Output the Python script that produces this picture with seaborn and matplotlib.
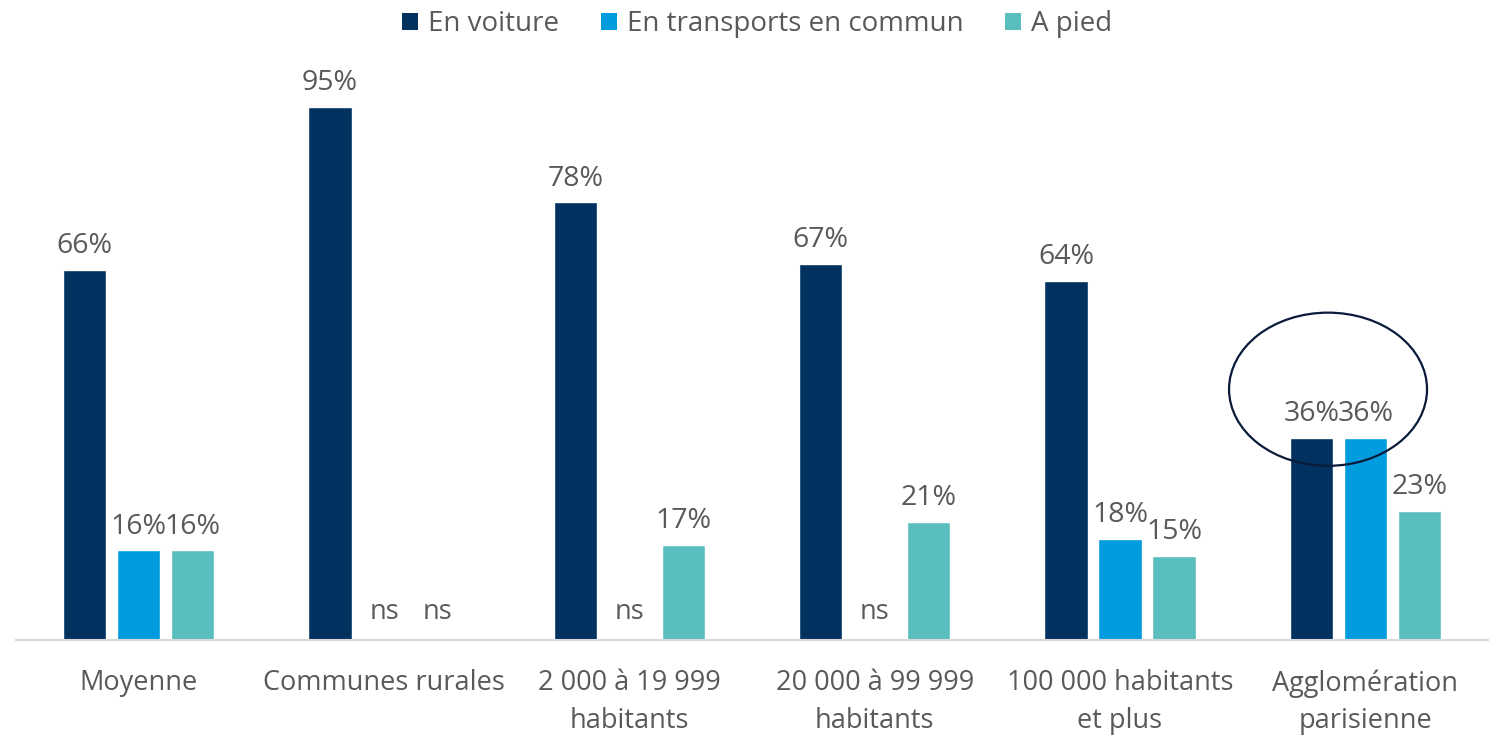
import numpy as np
import pandas as pd
import matplotlib
matplotlib.use("Agg")
import matplotlib.pyplot as plt
from matplotlib.patches import Ellipse, Patch
import seaborn as sns

categories = ["Moyenne", "Communes rurales", "2 000 à 19 999\nhabitants",
              "20 000 à 99 999\nhabitants", "100 000 habitants\net plus",
              "Agglomération\nparisienne"]
series = ["En voiture", "En transports en commun", "A pied"]
voiture = [66, 95, 78, 67, 64, 36]
transports = [16, None, None, None, 18, 36]
pied = [16, None, 17, 21, 15, 23]
colors = ["#00315F", "#009CDE", "#5BBEBE"]

sns.set_theme(style="white")
plt.rcParams["font.family"] = ["Open Sans", "DejaVu Sans"]

rows = []
for s, vals in zip(series, [voiture, transports, pied]):
    for c, v in zip(categories, vals):
        rows.append({"cat": c, "serie": s, "val": 0 if v is None else v,
                     "ns": v is None})
df = pd.DataFrame(rows)

fig = plt.figure(figsize=(14.99, 7.35), dpi=100)
ax = fig.add_axes([16 / 1499, 95 / 735, 1472 / 1499, 561 / 735])
sns.barplot(data=df, x="cat", y="val", hue="serie", order=categories,
            hue_order=series, palette=colors, width=0.66, gap=0.2,
            errorbar=None, ax=ax, legend=False, saturation=1)
ax.set_xlim(-0.5, len(categories) - 0.5)
ax.set_ylim(0, 100)
ax.set_xlabel("")
ax.set_ylabel("")
ax.set_yticks([])
for sp in ["top", "left", "right"]:
    ax.spines[sp].set_visible(False)
ax.spines["bottom"].set_color("#D9D9D9")
ax.spines["bottom"].set_linewidth(1.5)
ax.tick_params(axis="x", length=0, pad=21, labelsize=19.5, labelcolor="#595959")
for t in ax.get_xticklabels():
    t.set_linespacing(1.45)

txtc = "#595959"
for cont, s in zip(ax.containers, series):
    sub = df[df["serie"] == s].reset_index(drop=True)
    for bar, (_, r) in zip(cont.patches, sub.iterrows()):
        xc = bar.get_x() + bar.get_width() / 2
        if r["ns"]:
            ax.text(xc, 5.0, "ns", ha="center", va="center", fontsize=19.5,
                    color=txtc)
        else:
            ax.annotate(f"{int(r['val'])}%", (xc, bar.get_height()),
                        xytext=(0, 7), textcoords="offset points",
                        ha="center", va="bottom", fontsize=20.5, color=txtc)

ell = Ellipse((4.848, 44.7), 0.807, 27.3, fill=False, edgecolor="#0A1A3A",
              linewidth=1.6, zorder=5)
ax.add_patch(ell)

handles = [Patch(facecolor=c, edgecolor="none") for c in colors]
fig.legend(handles, series, loc="upper center", bbox_to_anchor=(0.505, 1.02),
           ncol=3, frameon=False, fontsize=20, handlelength=0.58,
           handleheight=0.58, handletextpad=0.35, columnspacing=1.5,
           labelcolor=txtc)

fig.savefig("out.png", dpi=100)
